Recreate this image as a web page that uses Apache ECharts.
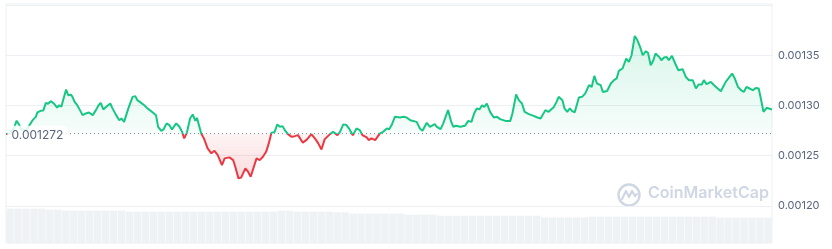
<!DOCTYPE html>
<html>
<head>
<meta charset="utf-8">
<script src="https://cdn.jsdelivr.net/npm/echarts@6/dist/echarts.min.js"></script>
<style>
  html, body { margin: 0; padding: 0; background: #fff; }
  #chart { width: 832px; height: 249px; }
</style>
</head>
<body>
<div id="chart"></div>
<script>
// ---- data ----
// minutes since the start of the 24h window
const times = [
  0,8,15,20,25,28,37,43,50,56,
  59,65,70,75,79,84,90,96,100,104,
  107,113,117,122,125,129,134,139,144,150,
  156,163,169,174,178,183,188,196,200,207,
  213,217,222,230,238,243,247,254,260,266,
  276,282,286,292,296,302,307,312,320,326,
  331,335,340,346,351,356,359,367,372,379,
  386,392,398,406,411,420,427,431,437,442,
  450,455,460,471,477,483,489,494,499,505,
  510,515,520,524,530,537,543,549,552,558,
  566,574,582,587,593,599,609,615,623,628,
  634,640,646,652,659,665,670,678,682,687,
  694,703,709,716,720,725,731,741,747,753,
  760,772,778,783,791,797,806,810,817,822,
  831,837,841,846,854,863,869,875,880,885,
  890,895,899,904,910,917,923,929,939,948,
  952,959,964,970,975,983,992,999,1005,1008,
  1014,1020,1030,1035,1039,1046,1050,1055,1060,1064,
  1069,1077,1083,1089,1096,1101,1106,1111,1118,1122,
  1130,1137,1143,1148,1152,1159,1166,1171,1176,1182,
  1187,1192,1197,1203,1207,1212,1217,1221,1228,1232,
  1237,1242,1246,1252,1258,1264,1272,1278,1284,1291,
  1297,1302,1308,1312,1317,1325,1331,1338,1344,1348,
  1353,1358,1365,1370,1376,1382,1387,1392,1398,1404,
  1410,1415,1419,1424,1430,1440
];
const prices = [
  0.0012715,0.0012725,0.0012775,0.0012849,0.0012805,0.0012770,0.0012745,0.0012795,0.0012854,0.0012887,
  0.0012931,0.0012947,0.0012949,0.0013026,0.0013018,0.0013043,0.0013020,0.0012980,0.0013003,0.0012988,
  0.0013003,0.0013159,0.0013103,0.0013108,0.0013086,0.0013036,0.0013003,0.0012954,0.0012904,0.0012921,
  0.0012931,0.0012904,0.0012954,0.0013003,0.0013026,0.0012961,0.0012986,0.0013020,0.0012974,0.0012904,
  0.0012854,0.0012871,0.0012837,0.0012971,0.0013086,0.0013093,0.0013053,0.0013026,0.0013003,0.0012971,
  0.0012931,0.0012904,0.0012788,0.0012748,0.0012762,0.0012822,0.0012805,0.0012762,0.0012822,0.0012788,
  0.0012738,0.0012673,0.0012728,0.0012871,0.0012911,0.0012847,0.0012877,0.0012722,0.0012673,0.0012573,
  0.0012524,0.0012549,0.0012507,0.0012407,0.0012474,0.0012484,0.0012457,0.0012390,0.0012275,0.0012283,
  0.0012375,0.0012341,0.0012291,0.0012474,0.0012457,0.0012490,0.0012539,0.0012623,0.0012728,0.0012738,
  0.0012812,0.0012788,0.0012795,0.0012755,0.0012715,0.0012688,0.0012695,0.0012705,0.0012688,0.0012629,
  0.0012663,0.0012715,0.0012663,0.0012623,0.0012563,0.0012663,0.0012715,0.0012738,0.0012705,0.0012738,
  0.0012812,0.0012805,0.0012762,0.0012705,0.0012772,0.0012755,0.0012705,0.0012682,0.0012656,0.0012673,
  0.0012656,0.0012722,0.0012738,0.0012772,0.0012762,0.0012805,0.0012887,0.0012881,0.0012887,0.0012881,
  0.0012854,0.0012837,0.0012772,0.0012748,0.0012828,0.0012788,0.0012815,0.0012788,0.0012765,0.0012822,
  0.0012954,0.0012837,0.0012788,0.0012798,0.0012788,0.0012798,0.0012847,0.0012837,0.0012921,0.0012971,
  0.0012961,0.0013003,0.0012986,0.0013020,0.0012937,0.0012881,0.0012887,0.0012864,0.0012847,0.0012847,
  0.0012921,0.0013110,0.0013053,0.0013020,0.0012937,0.0012914,0.0012897,0.0012881,0.0012871,0.0012887,
  0.0012954,0.0012937,0.0012986,0.0013036,0.0013086,0.0013053,0.0012971,0.0012937,0.0012971,0.0012947,
  0.0012931,0.0013080,0.0013086,0.0013120,0.0013202,0.0013185,0.0013294,0.0013219,0.0013202,0.0013135,
  0.0013145,0.0013219,0.0013252,0.0013269,0.0013344,0.0013368,0.0013467,0.0013433,0.0013500,0.0013692,
  0.0013649,0.0013583,0.0013500,0.0013540,0.0013523,0.0013401,0.0013450,0.0013517,0.0013483,0.0013450,
  0.0013477,0.0013483,0.0013450,0.0013493,0.0013418,0.0013351,0.0013361,0.0013284,0.0013252,0.0013252,
  0.0013169,0.0013209,0.0013209,0.0013252,0.0013212,0.0013235,0.0013202,0.0013169,0.0013142,0.0013185,
  0.0013235,0.0013269,0.0013318,0.0013269,0.0013185,0.0013152,0.0013135,0.0013185,0.0013169,0.0013152,
  0.0013175,0.0013169,0.0013070,0.0012937,0.0012977,0.0012961
];
const baseline = 0.001272;
const baselineLabel = '0.001272';
const yTicks = [0.00120, 0.00125, 0.00130, 0.00135, 0.00140];
// volume (thousand USD) per 15-minute slot
const volumes = [
  1715,1715,1715,1715,1715,1665,1665,1615,1615,1615,
  1615,1615,1615,1615,1615,1565,1565,1565,1565,1565,
  1565,1565,1565,1565,1565,1565,1565,1565,1565,1565,
  1565,1565,1565,1565,1615,1615,1565,1565,1565,1565,
  1565,1535,1535,1465,1465,1465,1465,1465,1465,1465,
  1415,1415,1415,1415,1365,1365,1365,1365,1365,1365,
  1365,1365,1365,1365,1365,1365,1365,1285,1285,1285,
  1285,1285,1285,1315,1315,1315,1315,1315,1315,1315,
  1315,1315,1315,1315,1315,1315,1315,1315,1315,1265,
  1265,1265,1265,1265,1265,1265
];
const volumeSlots = volumes.map((_, i) => String(i));

// ---- chart ----
const GREEN = '#16c784', RED = '#ea3943';
const chart = echarts.init(document.getElementById('chart'), null, { renderer: 'canvas' });
const priceData = times.map((t, i) => [t, prices[i]]);
const baselineData = [[times[0], baseline], [times[times.length - 1], baseline]];

const option = {
  animation: false,
  textStyle: { fontFamily: 'Inter, sans-serif' },
  grid: [
    { id: 'price', left: 6, right: 60, top: 5, bottom: 43 },
    { id: 'vol', left: 6, right: 60, top: 203, bottom: 6 },
    { id: 'frame', left: 6, right: 60, top: 4, bottom: 6, show: true, borderColor: '#eceff3', borderWidth: 1, backgroundColor: 'transparent' }
  ],
  xAxis: [
    { type: 'value', gridIndex: 0, min: 0, max: 1440, show: false },
    { type: 'category', gridIndex: 1, data: volumeSlots, show: false, boundaryGap: true },
    { type: 'value', gridIndex: 2, min: 0, max: 1, show: false }
  ],
  yAxis: [
    {
      type: 'value', gridIndex: 0, position: 'right',
      min: yTicks[0], max: yTicks[yTicks.length - 1], interval: 0.00005,
      axisLine: { show: false }, axisTick: { show: false },
      splitLine: { lineStyle: { color: '#eceff3', width: 1 } },
      axisLabel: {
        showMaxLabel: false, margin: 6, color: '#58667e', fontSize: 11,
        fontFamily: 'Inter, sans-serif',
        formatter: v => v.toFixed(5)
      }
    },
    { type: 'value', gridIndex: 1, min: 0, max: 2000, show: false },
    { type: 'value', gridIndex: 2, min: 0, max: 1, show: false }
  ],
  series: [
    {
      id: 'baselineRef',
      type: 'line',
      xAxisIndex: 0, yAxisIndex: 0,
      data: baselineData,
      showSymbol: false,
      silent: true,
      z: 4,
      lineStyle: { type: [1, 3], color: '#7d879a', width: 1 }
    },
    {
      id: 'priceLine',
      type: 'line',
      xAxisIndex: 0, yAxisIndex: 0,
      data: priceData,
      showSymbol: false,
      smooth: false,
      lineStyle: { width: 2, color: GREEN },
      areaStyle: { origin: baseline, color: 'rgba(22,199,132,0.12)' },
      z: 3,
      markPoint: {
        silent: true,
        symbol: 'circle',
        symbolSize: 1,
        itemStyle: { color: 'rgba(0,0,0,0)' },
        data: [{ coord: [times[0], baseline], value: baseline }],
        label: {
          show: true,
          position: 'right',
          distance: 1,
          offset: [0, 2],
          formatter: baselineLabel,
          color: '#58667e',
          fontSize: 12,
          fontFamily: 'Inter, sans-serif',
          backgroundColor: 'rgba(255,255,255,0.85)',
          borderRadius: 4,
          padding: [4, 4, 4, 4]
        },
        z: 20
      }
    },
    {
      id: 'volume',
      type: 'bar',
      xAxisIndex: 1, yAxisIndex: 1,
      data: volumes,
      barCategoryGap: '6%',
      itemStyle: { color: '#eff2f5' },
      silent: true,
      z: 1
    }
  ],
  graphic: [
    {
      type: 'group', left: 616, top: 182, silent: true,
      children: [
        { type: 'circle', shape: { cx: 12, cy: 12, r: 10.5 }, style: { fill: 'none', stroke: '#cfd6e4', lineWidth: 2.4 } },
        { type: 'polyline', shape: { points: [[5, 16], [9, 8], [12, 14], [15, 8], [18, 13], [20, 11]] }, style: { fill: 'none', stroke: '#cfd6e4', lineWidth: 2.2, lineJoin: 'round', lineCap: 'round' } }
      ]
    },
    {
      type: 'text', left: 648, top: 185, silent: true,
      style: { text: 'CoinMarketCap', fill: '#cfd6e4', font: '600 16px Inter, sans-serif' }
    }
  ]
};
chart.setOption(option);

// line colour and area fill: hard switch at the baseline (green above, red below),
// area fading toward the baseline
const yTopPx = chart.convertToPixel({ yAxisIndex: 0 }, yTicks[yTicks.length - 1]);
const yBotPx = chart.convertToPixel({ yAxisIndex: 0 }, yTicks[0]);
const yBasePx = chart.convertToPixel({ yAxisIndex: 0 }, baseline);
const off = (yBasePx - yTopPx) / (yBotPx - yTopPx);
chart.setOption({
  series: [{
    id: 'priceLine',
    lineStyle: {
      width: 2,
      color: new echarts.graphic.LinearGradient(0, yTopPx, 0, yBotPx, [
        { offset: 0, color: GREEN },
        { offset: off, color: GREEN },
        { offset: off, color: RED },
        { offset: 1, color: RED }
      ], true)
    },
    areaStyle: {
      origin: baseline,
      color: new echarts.graphic.LinearGradient(0, yTopPx, 0, yBotPx, [
        { offset: 0, color: 'rgba(22,199,132,0.30)' },
        { offset: off, color: 'rgba(22,199,132,0.05)' },
        { offset: off, color: 'rgba(234,57,67,0.08)' },
        { offset: 1, color: 'rgba(234,57,67,0.36)' }
      ], true)
    }
  }]
});
</script>
</body>
</html>
